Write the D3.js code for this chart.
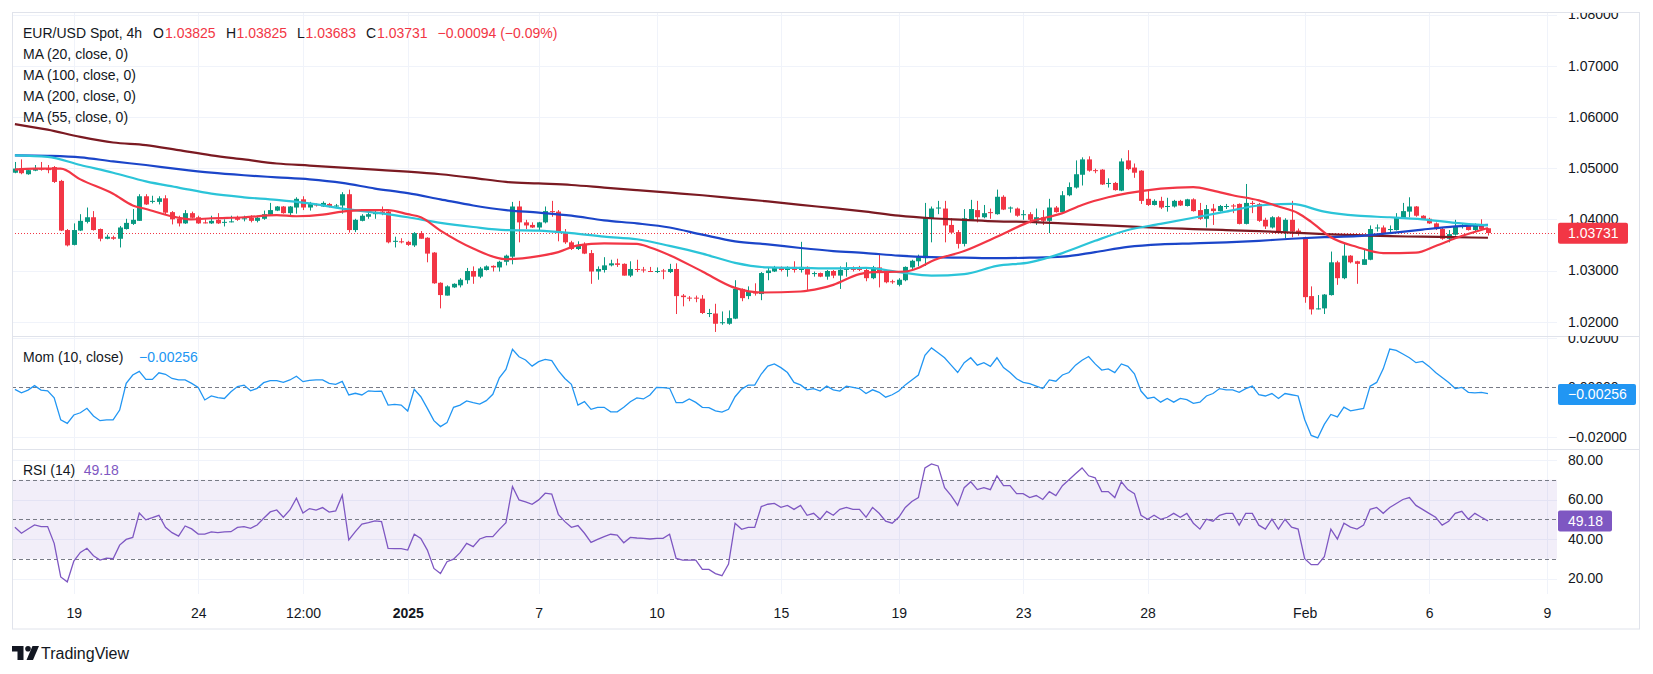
<!DOCTYPE html>
<html>
<head>
<meta charset="utf-8">
<script src="https://cdn.jsdelivr.net/npm/d3@7"></script>
<style>
  body { margin: 0; background: #fff; }
  svg { display: block; }
  text { font-family: "Liberation Sans", Arial, sans-serif; }
</style>
</head>
<body>
<div id="chart"></div>
<script>
// EUR/USD 4h candles (index 0 = first bar on the left)
var opens = [1.0491,1.0499,1.0488,1.0495,1.0499,1.0499,1.0502,1.0475,1.0379,1.0350,
1.0378,1.0395,1.0404,1.0381,1.0362,1.0365,1.0362,1.0381,1.0391,1.0397,
1.0445,1.0434,1.0434,1.0441,1.0414,1.0401,1.0392,1.0412,1.0404,1.0394,
1.0392,1.0399,1.0394,1.0395,1.0404,1.0401,1.0403,1.0397,1.0401,1.0409,
1.0417,1.0425,1.0412,1.0423,1.0439,1.0423,1.0429,1.0425,1.0430,1.0425,
1.0427,1.0449,1.0379,1.0397,1.0405,1.0410,1.0415,1.0415,1.0356,1.0357,
1.0356,1.0349,1.0373,1.0364,1.0335,1.0276,1.0251,1.0267,1.0271,1.0281,
1.0299,1.0288,1.0301,1.0309,1.0306,1.0317,1.0327,1.0425,1.0394,1.0389,
1.0384,1.0394,1.0416,1.0415,1.0373,1.0355,1.0342,1.0352,1.0334,1.0298,
1.0301,1.0310,1.0314,1.0313,1.0290,1.0303,1.0302,1.0299,1.0298,1.0300,
1.0297,1.0303,1.0251,1.0247,1.0247,1.0245,1.0215,1.0216,1.0197,1.0196,
1.0206,1.0264,1.0250,1.0258,1.0254,1.0295,1.0298,1.0306,1.0301,1.0307,
1.0301,1.0307,1.0293,1.0295,1.0288,1.0299,1.0290,1.0301,1.0304,1.0304,
1.0301,1.0285,1.0306,1.0296,1.0279,1.0272,1.0281,1.0306,1.0318,1.0324,
1.0402,1.0421,1.0421,1.0389,1.0375,1.0352,1.0399,1.0418,1.0404,1.0414,
1.0410,1.0444,1.0421,1.0421,1.0408,1.0410,1.0397,1.0404,1.0397,1.0423,
1.0414,1.0447,1.0462,1.0487,1.0517,1.0496,1.0497,1.0470,1.0471,1.0456,
1.0515,1.0501,1.0495,1.0440,1.0428,1.0436,1.0424,1.0425,1.0436,1.0426,
1.0439,1.0418,1.0401,1.0421,1.0416,1.0424,1.0427,1.0430,1.0391,1.0432,
1.0430,1.0399,1.0384,1.0404,1.0376,1.0399,1.0378,1.0365,1.0250,1.0224,
1.0226,1.0252,1.0316,1.0285,1.0329,1.0318,1.0311,1.0321,1.0382,1.0384,
1.0379,1.0379,1.0403,1.0415,1.0425,1.0407,1.0401,1.0392,1.0381,1.0362,
1.0370,1.0386,1.0388,1.0379,1.0390,1.03825];
var highs = [1.0512,1.0517,1.0497,1.0506,1.0512,1.0506,1.0504,1.0477,1.0381,1.0392,
1.0410,1.0423,1.0416,1.0382,1.0370,1.0368,1.0387,1.0401,1.0420,1.0449,
1.0449,1.0446,1.0445,1.0447,1.0416,1.0407,1.0418,1.0415,1.0407,1.0400,
1.0407,1.0412,1.0400,1.0407,1.0407,1.0407,1.0408,1.0407,1.0417,1.0432,
1.0426,1.0426,1.0426,1.0443,1.0445,1.0434,1.0431,1.0435,1.0432,1.0430,
1.0453,1.0458,1.0401,1.0410,1.0416,1.0417,1.0425,1.0417,1.0366,1.0363,
1.0358,1.0375,1.0377,1.0365,1.0336,1.0277,1.0271,1.0275,1.0285,1.0305,
1.0308,1.0307,1.0310,1.0310,1.0319,1.0331,1.0434,1.0436,1.0399,1.0394,
1.0395,1.0425,1.0436,1.0418,1.0381,1.0358,1.0357,1.0355,1.0340,1.0308,
1.0326,1.0321,1.0323,1.0314,1.0318,1.0321,1.0307,1.0307,1.0306,1.0303,
1.0313,1.0314,1.0254,1.0250,1.0251,1.0252,1.0225,1.0235,1.0220,1.0222,
1.0281,1.0265,1.0269,1.0275,1.0297,1.0305,1.0309,1.0308,1.0308,1.0318,
1.0356,1.0308,1.0298,1.0296,1.0301,1.0301,1.0308,1.0316,1.0308,1.0309,
1.0305,1.0309,1.0333,1.0299,1.0282,1.0285,1.0308,1.0321,1.0331,1.0432,
1.0425,1.0436,1.0436,1.0402,1.0379,1.0420,1.0438,1.0436,1.0428,1.0421,
1.0458,1.0447,1.0425,1.0423,1.0418,1.0414,1.0421,1.0418,1.0440,1.0426,
1.0455,1.0472,1.0515,1.0521,1.0523,1.0499,1.0498,1.0480,1.0473,1.0519,
1.0535,1.0509,1.0496,1.0457,1.0439,1.0444,1.0442,1.0438,1.0438,1.0440,
1.0441,1.0432,1.0428,1.0430,1.0428,1.0430,1.0430,1.0431,1.0469,1.0436,
1.0432,1.0403,1.0406,1.0406,1.0402,1.0436,1.0382,1.0366,1.0269,1.0252,
1.0254,1.0337,1.0319,1.0353,1.0330,1.0319,1.0342,1.0388,1.0390,1.0388,
1.0388,1.0412,1.0432,1.0443,1.0426,1.0408,1.0403,1.0394,1.0384,1.0379,
1.0399,1.0392,1.0392,1.0392,1.0400,1.03825];
var lows = [1.0490,1.0488,1.0487,1.0494,1.0495,1.0490,1.0471,1.0377,1.0347,1.0349,
1.0377,1.0392,1.0378,1.0357,1.0361,1.0360,1.0345,1.0380,1.0389,1.0397,
1.0428,1.0431,1.0429,1.0410,1.0390,1.0386,1.0391,1.0402,1.0391,1.0392,
1.0391,1.0391,1.0386,1.0394,1.0397,1.0396,1.0394,1.0394,1.0399,1.0408,
1.0416,1.0411,1.0407,1.0411,1.0418,1.0417,1.0425,1.0424,1.0423,1.0423,
1.0411,1.0374,1.0375,1.0396,1.0401,1.0401,1.0408,1.0353,1.0345,1.0353,
1.0348,1.0346,1.0362,1.0316,1.0274,1.0226,1.0251,1.0266,1.0267,1.0274,
1.0274,1.0285,1.0300,1.0298,1.0298,1.0310,1.0312,1.0355,1.0381,1.0383,
1.0378,1.0392,1.0405,1.0357,1.0352,1.0340,1.0340,1.0332,1.0274,1.0282,
1.0296,1.0308,1.0307,1.0290,1.0287,1.0297,1.0296,1.0297,1.0295,1.0283,
1.0295,1.0215,1.0230,1.0240,1.0238,1.0215,1.0209,1.0180,1.0194,1.0194,
1.0205,1.0240,1.0244,1.0251,1.0242,1.0281,1.0297,1.0298,1.0288,1.0296,
1.0296,1.0262,1.0288,1.0287,1.0282,1.0285,1.0264,1.0288,1.0298,1.0299,
1.0279,1.0283,1.0267,1.0275,1.0274,1.0269,1.0279,1.0303,1.0308,1.0309,
1.0355,1.0410,1.0355,1.0371,1.0343,1.0347,1.0397,1.0394,1.0402,1.0401,
1.0409,1.0418,1.0413,1.0405,1.0399,1.0392,1.0389,1.0389,1.0373,1.0413,
1.0413,1.0445,1.0460,1.0466,1.0493,1.0490,1.0467,1.0462,1.0456,1.0455,
1.0496,1.0481,1.0430,1.0426,1.0427,1.0420,1.0415,1.0423,1.0426,1.0425,
1.0415,1.0399,1.0384,1.0389,1.0415,1.0420,1.0412,1.0390,1.0390,1.0412,
1.0395,1.0381,1.0382,1.0374,1.0363,1.0365,1.0368,1.0237,1.0214,1.0224,
1.0215,1.0251,1.0272,1.0283,1.0314,1.0274,1.0311,1.0320,1.0376,1.0371,
1.0373,1.0378,1.0401,1.0404,1.0405,1.0399,1.0391,1.0379,1.0360,1.0355,
1.0368,1.0382,1.0378,1.0376,1.0379,1.03683];
var closes = [1.0499,1.0490,1.0496,1.0499,1.0497,1.0496,1.0473,1.0378,1.0349,1.0379,
1.0397,1.0404,1.0379,1.0362,1.0366,1.0362,1.0384,1.0393,1.0399,1.0445,
1.0429,1.0436,1.0441,1.0413,1.0400,1.0392,1.0412,1.0403,1.0392,1.0392,
1.0397,1.0392,1.0395,1.0396,1.0399,1.0402,1.0397,1.0403,1.0410,1.0418,
1.0425,1.0412,1.0425,1.0440,1.0423,1.0431,1.0427,1.0432,1.0425,1.0427,
1.0449,1.0379,1.0399,1.0407,1.0410,1.0414,1.0412,1.0355,1.0358,1.0355,
1.0350,1.0373,1.0362,1.0333,1.0275,1.0252,1.0269,1.0274,1.0282,1.0299,
1.0288,1.0304,1.0308,1.0306,1.0317,1.0329,1.0425,1.0394,1.0388,1.0384,
1.0394,1.0416,1.0414,1.0373,1.0355,1.0342,1.0349,1.0333,1.0298,1.0303,
1.0310,1.0314,1.0311,1.0290,1.0303,1.0301,1.0300,1.0298,1.0299,1.0298,
1.0303,1.0250,1.0248,1.0246,1.0245,1.0217,1.0217,1.0196,1.0199,1.0207,
1.0264,1.0246,1.0258,1.0255,1.0295,1.0300,1.0306,1.0301,1.0307,1.0301,
1.0307,1.0292,1.0295,1.0288,1.0299,1.0290,1.0301,1.0304,1.0301,1.0301,
1.0285,1.0306,1.0296,1.0277,1.0277,1.0282,1.0307,1.0319,1.0326,1.0403,
1.0421,1.0423,1.0388,1.0374,1.0352,1.0402,1.0420,1.0404,1.0412,1.0412,
1.0444,1.0419,1.0423,1.0407,1.0410,1.0399,1.0404,1.0397,1.0423,1.0414,
1.0447,1.0463,1.0488,1.0517,1.0495,1.0494,1.0468,1.0471,1.0457,1.0513,
1.0498,1.0491,1.0436,1.0428,1.0436,1.0423,1.0426,1.0436,1.0427,1.0439,
1.0416,1.0401,1.0420,1.0416,1.0426,1.0426,1.0425,1.0391,1.0432,1.0430,
1.0397,1.0386,1.0404,1.0376,1.0399,1.0376,1.0375,1.0248,1.0224,1.0226,
1.0253,1.0316,1.0285,1.0329,1.0316,1.0313,1.0322,1.0381,1.0384,1.0373,
1.0381,1.0404,1.0416,1.0425,1.0407,1.0400,1.0392,1.0381,1.0362,1.0371,
1.0386,1.0388,1.0379,1.0390,1.0381,1.03731];

// moving averages, read every few bars
var maBars = [0,5,10,15,20,25,30,35,40,45,50,55,60,65,70,75,80,85,90,95,100,105,110,115,
120,125,130,135,140,145,150,155,160,165,170,175,180,185,190,195,200,205,210,215,220,225];
var ma55 = [1.0525,1.0522,1.0506,1.0491,1.0474,1.0462,1.0450,1.0443,1.0438,1.0431,1.0421,1.0413,
1.0404,1.0393,1.0385,1.0379,1.0378,1.0373,1.0366,1.0361,1.0348,1.0333,1.0315,1.0306,
1.0305,1.0304,1.0305,1.0297,1.0290,1.0293,1.0309,1.0316,1.0334,1.0358,1.0379,1.0391,
1.0403,1.0415,1.0427,1.0430,1.0415,1.0407,1.0404,1.0400,1.0393,1.0388];
var ma100 = [1.0525,1.0524,1.0521,1.0513,1.0506,1.0498,1.0491,1.0486,1.0482,1.0478,1.0471,1.0460,
1.0451,1.0439,1.0427,1.0418,1.0413,1.0407,1.0398,1.0392,1.0384,1.0370,1.0357,1.0351,
1.0344,1.0338,1.0334,1.0329,1.0326,1.0325,1.0324,1.0325,1.0327,1.0336,1.0346,1.0351,
1.0353,1.0355,1.0358,1.0362,1.0365,1.0367,1.0373,1.0380,1.0386,1.0389];
var ma200 = [1.0586,1.0575,1.0561,1.0550,1.0545,1.0535,1.0525,1.0517,1.0509,1.0505,1.0501,1.0497,
1.0493,1.0488,1.0481,1.0473,1.0470,1.0467,1.0462,1.0457,1.0452,1.0447,1.0441,1.0435,
1.0428,1.0422,1.0415,1.0407,1.0402,1.0399,1.0396,1.0395,1.0392,1.0389,1.0386,1.0383,
1.0381,1.0379,1.0377,1.0374,1.0371,1.0369,1.0367,1.0366,1.0365,1.0364];
var ma20Bars = [0,3,7,10,15,18,20,25,27,30,35,40,43,47,50,53,57,60,62,65,70,75,80,83,86,90,95,97,
100,105,110,114,120,123,125,129,131,136,138,140,145,150,155,160,163,167,170,175,180,183,
186,190,193,196,198,201,205,209,214,217,220,225];
var ma20 = [1.0497,1.0499,1.0499,1.0478,1.0450,1.0427,1.0420,1.0403,1.0400,1.0402,1.0404,1.0408,
1.0406,1.0409,1.0415,1.0418,1.0418,1.0410,1.0404,1.0378,1.0343,1.0322,1.0328,1.0336,1.0349,
1.0353,1.0352,1.0345,1.0330,1.0298,1.0266,1.0257,1.0259,1.0265,1.0272,1.0293,1.0297,1.0298,
1.0305,1.0318,1.0338,1.0366,1.0395,1.0412,1.0428,1.0443,1.0451,1.0460,1.0463,1.0456,1.0447,
1.0437,1.0425,1.0412,1.0395,1.0365,1.0346,1.0334,1.0335,1.0348,1.0363,1.0383];

// Momentum (10, close), one value per bar
var mom = [-0.0008,-0.0022,-0.0011,0.0007,-0.0011,-0.0014,-0.0042,-0.0132,-0.0146,-0.0112,
-0.0103,-0.0085,-0.0116,-0.0135,-0.0132,-0.0132,-0.0092,0.0016,0.0050,0.0065,
0.0032,0.0032,0.0059,0.0053,0.0036,0.0030,0.0030,0.0016,0.0000,-0.0051,
-0.0035,-0.0042,-0.0045,-0.0018,0.0003,0.0009,-0.0014,-0.0004,0.0019,0.0027,
0.0027,0.0020,0.0030,0.0045,0.0023,0.0028,0.0030,0.0030,0.0016,0.0012,
0.0024,-0.0031,-0.0024,-0.0031,-0.0014,-0.0016,-0.0015,-0.0072,-0.0069,-0.0072,
-0.0096,-0.0008,-0.0038,-0.0085,-0.0135,-0.0159,-0.0143,-0.0081,-0.0072,-0.0055,
-0.0062,-0.0068,-0.0054,-0.0028,0.0039,0.0073,0.0154,0.0124,0.0111,0.0086,
0.0104,0.0113,0.0108,0.0068,0.0036,0.0012,-0.0072,-0.0058,-0.0089,-0.0081,
-0.0081,-0.0099,-0.0099,-0.0081,-0.0058,-0.0043,-0.0047,-0.0031,0.0000,-0.0001,
-0.0004,-0.0062,-0.0062,-0.0047,-0.0061,-0.0081,-0.0082,-0.0095,-0.0100,-0.0089,
-0.0038,-0.0007,0.0009,0.0009,0.0054,0.0086,0.0095,0.0080,0.0060,0.0020,
0.0010,-0.0010,-0.0005,-0.0015,0.0005,-0.0010,-0.0015,0.0005,0.0000,-0.0005,
-0.0025,-0.0010,-0.0020,-0.0040,-0.0030,-0.0015,0.0010,0.0030,0.0050,0.0130,
0.0160,0.0140,0.0120,0.0090,0.0060,0.0100,0.0120,0.0090,0.0100,0.0085,
0.0120,0.0080,0.0060,0.0035,0.0020,0.0015,0.0005,-0.0005,0.0030,0.0025,
0.0050,0.0060,0.0090,0.0110,0.0125,0.0095,0.0070,0.0075,0.0060,0.0095,
0.0085,0.0055,-0.0015,-0.0045,-0.0040,-0.0060,-0.0045,-0.0060,-0.0045,-0.0050,
-0.0065,-0.0060,-0.0035,-0.0025,-0.0005,-0.0010,-0.0010,-0.0020,-0.0005,0.0005,
-0.0030,-0.0035,-0.0025,-0.0045,-0.0025,-0.0030,-0.0035,-0.0130,-0.0195,-0.0205,
-0.0150,-0.0110,-0.0120,-0.0080,-0.0095,-0.0090,-0.0085,0.0005,0.0020,0.0075,
0.0155,0.0150,0.0135,0.0120,0.0100,0.0105,0.0085,0.0060,0.0040,0.0020,
-0.0005,0.0000,-0.0020,-0.0022,-0.0020,-0.00256];

// RSI (14), one value per bar
var rsi = [45.9,42.9,45.1,47.1,46.3,46.3,37.8,20.8,18.3,28.8,
33.2,35.3,31.5,29.3,30.3,30.0,36.9,39.8,40.8,53.1,
49.7,50.8,52.0,45.9,43.2,41.5,46.6,45.1,42.5,42.5,
43.6,43.2,43.6,43.7,45.9,46.3,45.4,47.1,50.5,53.7,
54.7,51.0,54.7,60.7,53.1,55.4,54.6,55.9,53.6,54.2,
62.2,39.5,43.7,47.5,48.3,49.2,48.8,35.3,35.1,35.1,
34.4,42.4,40.3,34.4,25.1,22.5,28.5,29.8,33.1,37.8,
36.1,40.0,41.2,41.2,44.9,48.3,66.6,59.8,58.8,57.6,
59.8,63.2,62.7,52.5,48.8,45.9,46.8,42.9,38.3,39.8,
41.2,42.4,42.0,38.1,40.8,40.5,40.3,40.0,40.3,40.3,
42.4,30.2,29.3,29.3,29.3,24.6,24.6,22.5,21.4,27.3,
48.0,44.9,45.9,45.9,56.4,57.6,58,56,57,55,
57,52,53,50,54,52,55,56,55,55,
51,56,53,49,48,51,56,59,61,76,
78,77,66,62,57,66,69,65,66,65,
72,67,67,63,63,61,62,60,64,62,
67,70,73,76,72,71,64,64,61,69,
65,63,52,50,52,50,51,53,51,53,
48,45,50,49,52,53,53,47,53,53,
47,45,50,45,50,46,45,30,27,27,
31,45,40,48,46,45,47,55,56,53,
56,58,60,61,57,55,53,51,47,49,
53,54,50,53,51,49.18];

var dateBars = [9,28,44,60,80,98,117,135,154,173,197,216,234];
var dateLabels = ['19','24','12:00','2025','7','10','15','19','23','28','Feb','6','9'];
var priceTicks = [1.02,1.03,1.04,1.05,1.06,1.07,1.08];
var momTicks = [-0.02,0,0.02];
var rsiTicks = [20,40,60,80];
var rsiBands = [70,50,30];

const width = 1653;
const height = 674;
const left = 12, right = 1557, edge = 1639;
const ink = '#131722', up = '#089981', down = '#F23645', gridCol = '#F0F3FA', lineCol = '#E0E3EB';

const svg = d3.select('#chart')
    .append('svg')
    .attr('width', width)
    .attr('height', height);

svg.append('rect').attr('width', width).attr('height', height).attr('fill', '#fff');

const x = d3.scaleLinear().domain([0, 234]).range([14.9, 1546.9]);
const yP = d3.scaleLinear().domain([1.02, 1.07]).range([321.7, 65.7]);
const yM = d3.scaleLinear().domain([-0.02, 0.02]).range([436.7, 338]);
const yR = d3.scaleLinear().domain([20, 80]).range([578.5, 460]);

// clip paths for panes and their price scales
const defs = svg.append('defs');
function clip(id, x0, y0, x1, y1) {
    defs.append('clipPath').attr('id', id)
        .append('rect').attr('x', x0).attr('y', y0).attr('width', x1 - x0).attr('height', y1 - y0);
}
clip('cP', left, 13, right, 336);
clip('cM', left, 336, right, 449);
clip('cR', left, 449, right, 594);
clip('aP', right, 13, edge, 336);
clip('aM', right, 336, edge, 449);
clip('aR', right, 449, edge, 594);

// grid
const grid = svg.append('g').attr('stroke', gridCol).attr('stroke-width', 1);
grid.selectAll('.vg').data(dateBars).enter().append('line')
    .attr('x1', d => Math.round(x(d)) + 0.5).attr('x2', d => Math.round(x(d)) + 0.5)
    .attr('y1', 13).attr('y2', 594);
grid.append('g').attr('clip-path', 'url(#cP)').selectAll('line').data(priceTicks).enter().append('line')
    .attr('x1', left).attr('x2', right)
    .attr('y1', d => Math.round(yP(d)) + 0.5).attr('y2', d => Math.round(yP(d)) + 0.5);
grid.append('g').selectAll('line').data([-0.02, 0.02]).enter().append('line')
    .attr('x1', left).attr('x2', right)
    .attr('y1', d => Math.round(yM(d)) + 0.5).attr('y2', d => Math.round(yM(d)) + 0.5);
grid.append('g').selectAll('line').data(rsiTicks).enter().append('line')
    .attr('x1', left).attr('x2', right)
    .attr('y1', d => Math.round(yR(d)) + 0.5).attr('y2', d => Math.round(yR(d)) + 0.5);

// RSI band
svg.append('rect')
    .attr('x', left).attr('width', right - left)
    .attr('y', yR(70)).attr('height', yR(30) - yR(70))
    .attr('fill', '#7E57C2').attr('fill-opacity', 0.1);

// dashed reference lines
svg.selectAll('.rb').data(rsiBands).enter().append('line')
    .attr('x1', left).attr('x2', right)
    .attr('y1', d => Math.round(yR(d)) + 0.5).attr('y2', d => Math.round(yR(d)) + 0.5)
    .attr('stroke', '#787B86').attr('stroke-dasharray', '4,3');
svg.append('line')
    .attr('x1', left).attr('x2', right)
    .attr('y1', Math.round(yM(0)) + 0.5).attr('y2', Math.round(yM(0)) + 0.5)
    .attr('stroke', '#787B86').attr('stroke-dasharray', '4,3');

// last price dotted line
svg.append('line')
    .attr('x1', left).attr('x2', right)
    .attr('y1', Math.round(yP(closes[closes.length - 1])) + 0.5)
    .attr('y2', Math.round(yP(closes[closes.length - 1])) + 0.5)
    .attr('stroke', down).attr('stroke-dasharray', '1,2');

// candles
const pane = svg.append('g').attr('clip-path', 'url(#cP)');
const bars = d3.range(closes.length);
pane.selectAll('.wick').data(bars).enter().append('line')
    .attr('x1', i => Math.round(x(i)) + 0.5).attr('x2', i => Math.round(x(i)) + 0.5)
    .attr('y1', i => yP(highs[i])).attr('y2', i => yP(lows[i]))
    .attr('stroke', i => closes[i] >= opens[i] ? up : down);
pane.selectAll('.body').data(bars).enter().append('rect')
    .attr('x', i => Math.round(x(i)) - 2)
    .attr('width', 5)
    .attr('y', i => Math.min(yP(opens[i]), yP(closes[i])))
    .attr('height', i => Math.max(1, Math.abs(yP(opens[i]) - yP(closes[i]))))
    .attr('fill', i => closes[i] >= opens[i] ? up : down);

// moving averages
function maLine(idx, vals, color) {
    const line = d3.line()
        .x((d, k) => x(idx[k]))
        .y(d => yP(d))
        .curve(d3.curveMonotoneX);
    pane.append('path').datum(vals)
        .attr('d', line)
        .attr('fill', 'none')
        .attr('stroke', color)
        .attr('stroke-width', 2.2)
        .attr('stroke-linejoin', 'round');
}
maLine(maBars, ma200, '#7B1A22');
maLine(maBars, ma100, '#1B45C9');
maLine(maBars, ma55, '#2BC4D8');
maLine(ma20Bars, ma20, '#F23645');

// momentum and RSI lines
svg.append('g').attr('clip-path', 'url(#cM)').append('path').datum(mom)
    .attr('d', d3.line().x((d, i) => x(i)).y(d => yM(d)))
    .attr('fill', 'none').attr('stroke', '#2196F3').attr('stroke-width', 1.3);
svg.append('g').attr('clip-path', 'url(#cR)').append('path').datum(rsi)
    .attr('d', d3.line().x((d, i) => x(i)).y(d => yR(d)))
    .attr('fill', 'none').attr('stroke', '#7E57C2').attr('stroke-width', 1.3);

// frame and pane separators
svg.append('rect').attr('x', 12.5).attr('y', 12.5).attr('width', 1627).attr('height', 616.5)
    .attr('fill', 'none').attr('stroke', lineCol);
svg.selectAll('.sep').data([336, 449]).enter().append('line')
    .attr('x1', 12).attr('x2', edge).attr('y1', d => d + 0.5).attr('y2', d => d + 0.5)
    .attr('stroke', lineCol);

// price scales
function scaleAxis(scale, ticks, fmt, clipId) {
    svg.append('g')
        .attr('clip-path', 'url(#' + clipId + ')')
        .append('g')
        .attr('transform', 'translate(1560,0)')
        .call(d3.axisRight(scale).tickValues(ticks).tickFormat(fmt).tickSize(0).tickPadding(8))
        .call(g => g.select('.domain').remove())
        .selectAll('text')
        .attr('font-family', '"Liberation Sans", Arial, sans-serif')
        .attr('font-size', 14)
        .attr('fill', ink);
}
scaleAxis(yP, priceTicks, d3.format('.5f'), 'aP');
scaleAxis(yM, momTicks, d3.format('.5f'), 'aM');
scaleAxis(yR, rsiTicks, d3.format('.2f'), 'aR');

// last value tags
function tag(y, w, color, label) {
    svg.append('rect').attr('x', 1558).attr('y', y).attr('width', w).attr('height', 21)
        .attr('rx', 2).attr('fill', color);
    svg.append('text').attr('x', 1568).attr('y', y + 10.5).attr('dy', '0.35em')
        .attr('font-size', 14).attr('fill', '#fff').text(label);
}
tag(222.7, 70, down, '1.03731');
tag(384, 78, '#2196F3', '\u22120.00256');
tag(510.5, 54, '#7E57C2', '49.18');

// time axis
svg.append('g')
    .attr('transform', 'translate(0,612.7)')
    .call(d3.axisBottom(x).tickValues(dateBars).tickFormat((d, i) => dateLabels[i]).tickSize(0).tickPadding(0))
    .call(g => g.select('.domain').remove())
    .selectAll('text')
    .attr('y', 0).attr('dy', '0.35em')
    .attr('font-family', '"Liberation Sans", Arial, sans-serif')
    .attr('font-size', 14)
    .attr('font-weight', (d, i) => dateLabels[i] === '2025' ? 'bold' : 'normal')
    .attr('fill', ink);

// legends
const title = svg.append('text').attr('y', 33.3).attr('dy', '0.35em').attr('font-size', 14).attr('fill', ink);
title.append('tspan').attr('x', 23).text('EUR/USD Spot, 4h');
[['O', 153, '1.03825', 165], ['H', 226, '1.03825', 236.5], ['L', 297, '1.03683', 305.5], ['C', 366, '1.03731', 377]]
    .forEach(function(p) {
        title.append('tspan').attr('x', p[1]).text(p[0]);
        title.append('tspan').attr('x', p[3]).attr('fill', down).text(p[2]);
    });
title.append('tspan').attr('x', 437.5).attr('fill', down).text('\u22120.00094 (\u22120.09%)');

var maNames = ['MA (20, close, 0)', 'MA (100, close, 0)', 'MA (200, close, 0)', 'MA (55, close, 0)'];
svg.selectAll('.maLegend').data(maNames).enter().append('text')
    .attr('x', 23).attr('y', (d, i) => 54 + i * 21).attr('dy', '0.35em')
    .attr('font-size', 14).attr('fill', ink).text(d => d);

const momLabel = svg.append('text').attr('y', 356.7).attr('dy', '0.35em').attr('font-size', 14).attr('fill', ink);
momLabel.append('tspan').attr('x', 23).text('Mom (10, close)');
momLabel.append('tspan').attr('x', 139).attr('fill', '#2196F3').text('\u22120.00256');

const rsiLabel = svg.append('text').attr('y', 470).attr('dy', '0.35em').attr('font-size', 14).attr('fill', ink);
rsiLabel.append('tspan').attr('x', 23).text('RSI (14)');
rsiLabel.append('tspan').attr('x', 83.7).attr('fill', '#7E57C2').text('49.18');

// TradingView mark
const logo = svg.append('g').attr('fill', ink);
logo.append('path').attr('d', 'M12 646h11.5v14h-6v-8.5H12z');
logo.append('circle').attr('cx', 28).attr('cy', 648.8).attr('r', 2.8);
logo.append('path').attr('d', 'M32.5 646h6.5l-6 14h-6.5z');
logo.append('text').attr('x', 41).attr('y', 653).attr('dy', '0.35em')
    .attr('font-size', 16).attr('fill', ink).text('TradingView');
</script>
</body>
</html>
